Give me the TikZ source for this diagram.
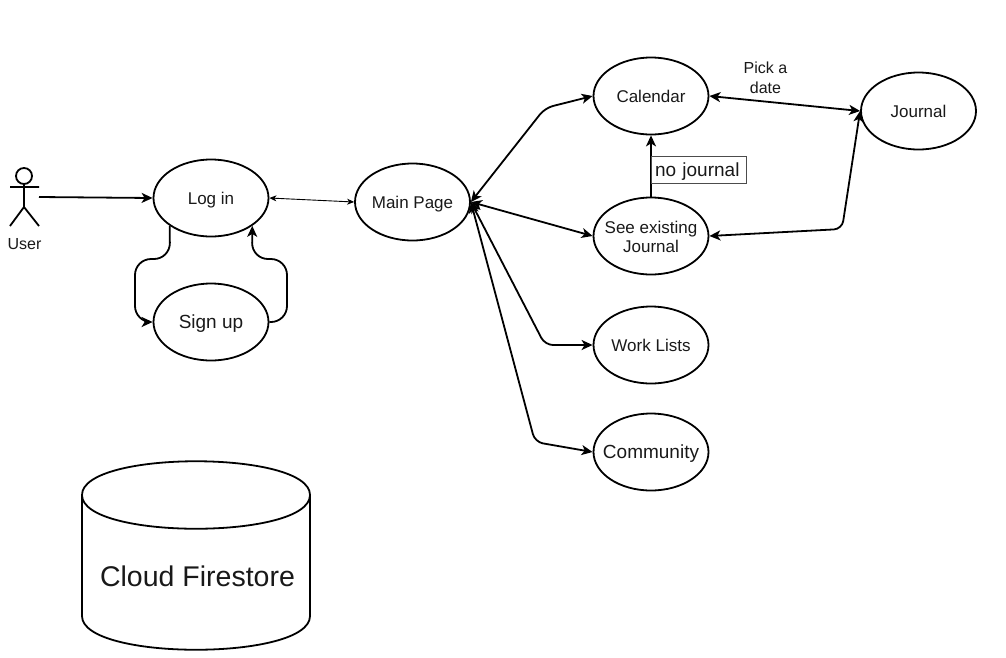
\documentclass[tikz,border=0pt]{standalone}
\usepackage{fontspec}
\setmainfont{Liberation Sans}
\usetikzlibrary{shapes.geometric, arrows.meta}
\tikzset{
    usecase/.style={draw, ellipse, line width=1.8pt, minimum width=115pt, minimum height=77pt, inner sep=-20pt, align=center, text height=12pt, text depth=0pt, font=\fontsize{17}{19}\selectfont},
    link/.style={line width=1.8pt, rounded corners=8pt},
    tag/.style={inner sep=0pt, align=center}
}
\begin{document}
\begin{tikzpicture}[x=1pt, y=-1pt, >={Stealth[length=11pt, width=10pt, inset=3pt]}, text=black!90]
    \useasboundingbox (0,0) rectangle (1006,657);
    % 用户
    \draw[line width=1.8pt] (24,176) circle (8pt);
    \draw[line width=1.8pt] (24,184) -- (24,207) (10,187) -- (39,187) (10,226) -- (24,207) -- (39,226);
    \node[tag, font=\fontsize{16}{18}\selectfont, text height=12pt, text depth=0pt] (user) at (24.5,243) {User};
    \coordinate (actor) at (39,197);
    % 左边两个
    \node[usecase] (login) at (211,198) {Log in};
    \node[usecase, font=\fontsize{19}{22}\selectfont, text height=13.5pt] (signup) at (211,322) {Sign up};
    \node[usecase] (mainpage) at (412.5,202) {Main Page};
    % 右边几个
    \node[usecase] (calendar) at (651,96) {Calendar};
    \node[usecase, text height=33pt] (existing) at (651,236) {See existing\\Journal};
    \node[usecase] (worklists) at (651,345) {Work Lists};
    \node[usecase, font=\fontsize{19}{21}\selectfont, text height=13.5pt] (community) at (651,452) {Community};
    \node[usecase] (journal) at (918.5,111) {Journal};
    % 连线
    \draw[->, line width=1.8pt] (actor) -- (login.west);
    \draw[{Stealth[length=7pt, width=6pt, inset=2pt]}-{Stealth[length=7pt, width=6pt, inset=2pt]}, line width=0.9pt] (login.east) -- (mainpage.west);
    \draw[->, line width=1.8pt, rounded corners=16pt] (login.south west) -- (170,259) -- (135,259) -- (135,322) -- (signup.west);
    \draw[->, line width=1.8pt, rounded corners=16pt] (signup.east) -- (287,322) -- (287,259) -- (252,259) -- (login.south east);
    \draw[<->, link] (mainpage.east) -- (545,108) -- (calendar.west);
    \draw[<->, link] (mainpage.east) -- (existing.west);
    \draw[<->, link] (mainpage.east) -- (545,345) -- (worklists.west);
    \draw[<->, link] (mainpage.east) -- (535,442) -- (community.west);
    \draw[<->, link] (calendar.east) -- (journal.west);
    \draw[<->, link] (existing.east) -- (842,229) -- (journal.west);
    \draw[->, link] (existing.north) -- (calendar.south);
    % 标注
    \node[tag, font=\fontsize{16}{20}\selectfont] (pick) at (765.5,78) {Pick a\\date};
    \node[draw=black!70, line width=0.9pt, minimum width=95pt, minimum height=27pt, inner sep=0pt, text width=88pt, align=left, text height=14pt, text depth=0pt, font=\fontsize{19}{21}\selectfont] (nojournal) at (699,169.5) {no journal};
    % 数据库
    \draw[line width=1.8pt] (82,495) .. controls (82,450) and (310,450) .. (310,495) -- (310,616) .. controls (310,661) and (82,661) .. (82,616) -- cycle;
    \draw[line width=1.8pt] (82,495) .. controls (82,540) and (310,540) .. (310,495);
    \node[tag, font=\fontsize{28.5}{30}\selectfont] (firestore) at (197.5,576) {Cloud Firestore};
\end{tikzpicture}
\end{document}
